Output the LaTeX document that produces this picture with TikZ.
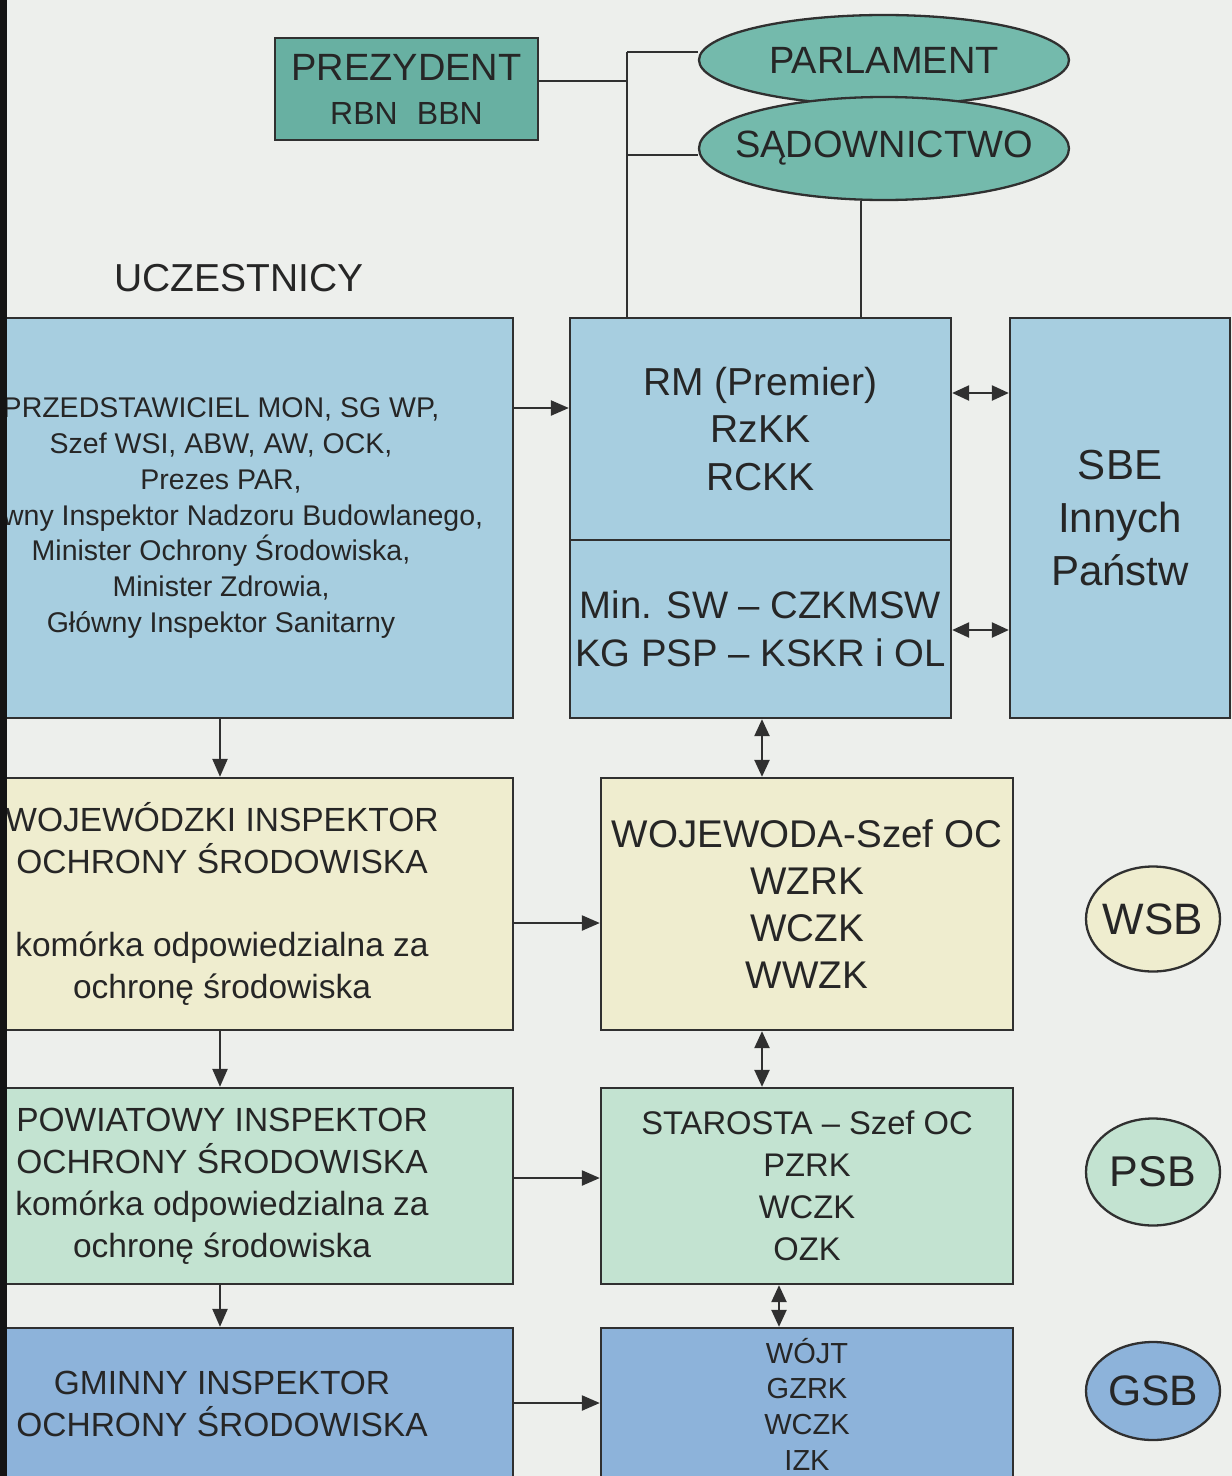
\documentclass[tikz,border=0pt]{standalone}
\usepackage{fontspec}
\setmainfont{Liberation Sans}
\usetikzlibrary{shapes.geometric,arrows.meta}
\definecolor{bgc}{HTML}{EDEFEC}
\definecolor{lc}{HTML}{303030}
\definecolor{tealA}{HTML}{68B0A2}
\definecolor{tealB}{HTML}{74BAAC}
\definecolor{lblue}{HTML}{A7CEE0}
\definecolor{lyel}{HTML}{EFEDCF}
\definecolor{lgreen}{HTML}{C3E3D1}
\definecolor{mblue}{HTML}{8DB3DA}
\definecolor{txt}{HTML}{262626}
\newcommand{\fs}[2]{\fontsize{#1pt}{#2pt}\selectfont}
\newcommand{\zb}[1]{\makebox[0pt]{#1}}
\begin{document}
\begin{tikzpicture}[x=1pt,y=-1pt,
  box/.style={draw=lc, line width=2.3pt, inner sep=0pt, align=center, text=txt},
  oval/.style={ellipse, draw=lc, line width=2.3pt, inner sep=0pt, align=center, text=txt},
  conn/.style={draw=lc, line width=2.3pt},
  arr/.style={conn, -{Triangle[length=18pt,width=15pt]}},
  darr/.style={conn, {Triangle[length=17pt,width=15pt]}-{Triangle[length=17pt,width=15pt]}}
]
\useasboundingbox (0,0) rectangle (1232,1476);
\clip (0,0) rectangle (1232,1476);
\fill[bgc] (0,0) rectangle (1232,1476);

% top level
\node[box, fill=tealA, minimum width=263pt, minimum height=102pt, font=\fs{38}{44}] (prez) at (406.5,89)
  {PREZYDENT\\\fs{32}{44}RBN\hspace{0.6em}BBN};
\node[oval, fill=tealB, minimum width=370pt, minimum height=90pt, font=\fs{38}{44}] (parl) at (884,60) {\zb{PARLAMENT}};
\node[oval, fill=tealB, minimum width=370pt, minimum height=103pt, font=\fs{38}{44}] (sad) at (884,148.5) {\zb{SĄDOWNICTWO}};
\node[text=txt, font=\fs{39}{44}] (ucztitle) at (239,278) {UCZESTNICY};

% government level
\node[box, fill=lblue, minimum width=584pt, minimum height=400pt, font=\fs{28.5}{35.7}] (ucz) at (221,518)
  {PRZEDSTAWICIEL MON, SG WP,\\Szef WSI, ABW, AW, OCK,\\Prezes PAR,\\Główny Inspektor Nadzoru Budowlanego,\\Minister Ochrony Środowiska,\\Minister Zdrowia,\\Główny Inspektor Sanitarny};
\node[box, fill=lblue, minimum width=381pt, minimum height=222pt, font=\fs{39}{47.5}] (rmtop) at (760.5,429)
  {RM (Premier)\\RzKK\\RCKK};
\node[box, fill=lblue, minimum width=381pt, minimum height=178pt, font=\fs{38.3}{48}] (rmbot) at (760.5,629)
  {Min. SW – CZKMSW\\KG PSP – KSKR i OL};
\node[box, fill=lblue, minimum width=220pt, minimum height=400pt, font=\fs{42}{53}] (sbe) at (1120,518)
  {SBE\\Innych\\Państw};

% voivodeship
\node[box, fill=lyel, minimum width=582pt, minimum height=252pt, font=\fs{33.5}{42}] (wio) at (222,904)
  {WOJEWÓDZKI INSPEKTOR\\OCHRONY ŚRODOWISKA\\[41pt]komórka odpowiedzialna za\\ochronę środowiska};
\node[box, fill=lyel, minimum width=412pt, minimum height=252pt, font=\fs{38.6}{47.3}] (woj) at (807,904)
  {WOJEWODA-Szef OC\\WZRK\\WCZK\\WWZK};
\node[oval, fill=lyel, minimum width=134pt, minimum height=105pt, font=\fs{44}{44}] (wsb) at (1153,919) {\zb{WSB}};

% county
\node[box, fill=lgreen, minimum width=582pt, minimum height=196pt, font=\fs{33.5}{42}] (pio) at (222,1186)
  {POWIATOWY INSPEKTOR\\OCHRONY ŚRODOWISKA\\komórka odpowiedzialna za\\ochronę środowiska};
\node[box, fill=lgreen, minimum width=412pt, minimum height=196pt, font=\fs{32.7}{42}] (star) at (807,1186)
  {STAROSTA – Szef OC\\PZRK\\WCZK\\OZK};
\node[oval, fill=lgreen, minimum width=134pt, minimum height=107pt, font=\fs{43}{44}] (psb) at (1153,1172) {\zb{PSB}};

% commune
\node[box, fill=mblue, minimum width=582pt, minimum height=152pt, font=\fs{33.5}{42}] (gio) at (222,1404)
  {GMINNY INSPEKTOR\\OCHRONY ŚRODOWISKA};
\node[box, fill=mblue, minimum width=412pt, minimum height=152pt, font=\fs{29}{35.7}] (wojt) at (807,1404)
  {WÓJT\\GZRK\\WCZK\\IZK};
\node[oval, fill=mblue, minimum width=134pt, minimum height=98pt, font=\fs{42.6}{44}] (gsb) at (1153,1391) {\zb{GSB}};

% helper coordinates
\coordinate (j0) at (627,52);
\coordinate (j1) at (627,81);
\coordinate (j2) at (627,155);
\coordinate (vs) at (861,200);
\coordinate (lx) at (220,0);
\coordinate (mx) at (762,0);
\coordinate (sx) at (779,0);
\coordinate (h1) at (0,408);
\coordinate (h2) at (0,393);
\coordinate (h3) at (0,630);
\coordinate (h4) at (0,923);
\coordinate (h5) at (0,1178);
\coordinate (h6) at (0,1403);

% top connectors
\draw[conn] (prez.east |- j1) -- (j1);
\draw[conn] (j0) -- (rmtop.north -| j0);
\draw[conn] (j0) -- (parl.west |- j0);
\draw[conn] (j2) -- (sad.west |- j2);
\draw[conn] (sad.south -| vs) -- (rmtop.north -| vs);

% arrows
\draw[arr] (ucz.east |- h1) -- (rmtop.west |- h1);
\draw[darr] (rmtop.east |- h2) -- (sbe.west |- h2);
\draw[darr] (rmbot.east |- h3) -- (sbe.west |- h3);
\draw[darr] (rmbot.south -| mx) -- (woj.north -| mx);
\draw[darr] (woj.south -| mx) -- (star.north -| mx);
\draw[darr] (star.south -| sx) -- (wojt.north -| sx);

\draw[arr] (ucz.south -| lx) -- (wio.north -| lx);
\draw[arr] (wio.south -| lx) -- (pio.north -| lx);
\draw[arr] (pio.south -| lx) -- (gio.north -| lx);

\draw[arr] (wio.east |- h4) -- (woj.west |- h4);
\draw[arr] (pio.east |- h5) -- (star.west |- h5);
\draw[arr] (gio.east |- h6) -- (wojt.west |- h6);

% scan edge
\fill[black!92] (0,0) rectangle (7,1476);
\end{tikzpicture}
\end{document}
